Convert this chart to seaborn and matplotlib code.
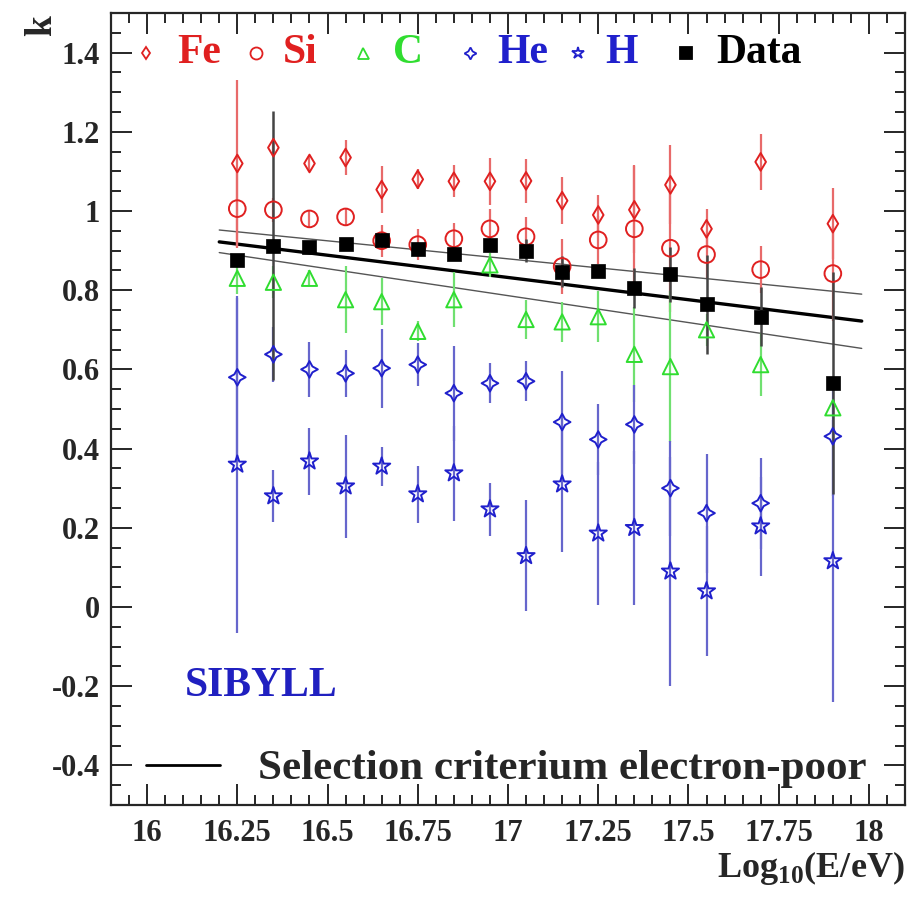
import numpy as np
import pandas as pd
import matplotlib
matplotlib.use("Agg")
import matplotlib.pyplot as plt
import seaborn as sns
from matplotlib.ticker import MultipleLocator, FuncFormatter

# ---------------- data ----------------
energy = [16.25, 16.35, 16.45, 16.55, 16.65, 16.75, 16.85, 16.95,
          17.05, 17.15, 17.25, 17.35, 17.45, 17.55, 17.70, 17.90]

fe = [1.120, 1.160, 1.120, 1.135, 1.054, 1.080, 1.075, 1.075,
      1.076, 1.026, 0.990, 1.003, 1.066, 0.955, 1.124, 0.968]
fe_err = [0.21, 0.02, 0.02, 0.045, 0.06, 0.025, 0.04, 0.06,
          0.055, 0.06, 0.05, 0.11, 0.10, 0.05, 0.07, 0.09]

si = [1.006, 1.003, 0.980, 0.985, 0.925, 0.915, 0.930, 0.955,
      0.935, 0.860, 0.927, 0.955, 0.906, 0.890, 0.852, 0.842]
si_err = [0.10, 0.03, 0.02, 0.02, 0.04, 0.04, 0.04, 0.05,
          0.05, 0.07, 0.06, 0.16, 0.16, 0.06, 0.06, 0.12]

c = [0.830, 0.820, 0.830, 0.776, 0.771, 0.696, 0.776, 0.864,
     0.726, 0.720, 0.733, 0.638, 0.607, 0.700, 0.612, 0.503]
c_err = [0.04, 0.04, 0.02, 0.085, 0.06, 0.025, 0.07, 0.03,
         0.05, 0.05, 0.065, 0.12, 0.19, 0.04, 0.08, 0.02]

he = [0.580, 0.638, 0.600, 0.590, 0.603, 0.612, 0.540, 0.565,
      0.570, 0.467, 0.423, 0.461, 0.300, 0.237, 0.262, 0.431]
he_err = [0.20, 0.07, 0.07, 0.06, 0.10, 0.055, 0.12, 0.05,
          0.05, 0.13, 0.09, 0.10, 0.12, 0.15, 0.115, 0.15]

h = [0.360, 0.280, 0.368, 0.305, 0.355, 0.285, 0.338, 0.247,
     0.129, 0.310, 0.186, 0.200, 0.090, 0.040, 0.204, 0.116]
h_err = [0.425, 0.065, 0.085, 0.13, 0.05, 0.072, 0.12, 0.067,
         0.14, 0.17, 0.18, 0.195, 0.29, 0.165, 0.125, 0.355]

k_data = [0.877, 0.912, 0.908, 0.917, 0.928, 0.905, 0.892, 0.915,
          0.900, 0.847, 0.849, 0.805, 0.840, 0.764, 0.733, 0.565]
k_data_err = [0.01, 0.34, 0.01, 0.01, 0.01, 0.01, 0.01, 0.01,
              0.03, 0.04, 0.01, 0.05, 0.07, 0.125, 0.075, 0.28]

sel_x = [16.20, 17.98]
sel_mid = [0.922, 0.722]
sel_up = [0.952, 0.790]
sel_lo = [0.895, 0.653]

x_ticks = [16, 16.25, 16.5, 16.75, 17, 17.25, 17.5, 17.75, 18]
y_ticks = [-0.4, -0.2, 0, 0.2, 0.4, 0.6, 0.8, 1.0, 1.2, 1.4]

names = ["Fe", "Si", "C", "He", "H"]
values = [fe, si, c, he, h]
errors = [fe_err, si_err, c_err, he_err, h_err]

# ---------------- style ----------------
sns.set_theme(style="ticks")
plt.rcParams["font.family"] = ["Liberation Serif", "DejaVu Serif"]
plt.rcParams["font.weight"] = "bold"
plt.rcParams["mathtext.fontset"] = "custom"
plt.rcParams["mathtext.rm"] = "Liberation Serif:bold"
plt.rcParams["mathtext.bf"] = "Liberation Serif:bold"

RED = "#e02020"
GREEN = "#30dd30"
BLUE = "#2020cc"
colors = {"Fe": RED, "Si": RED, "C": GREEN, "He": BLUE, "H": BLUE, "Data": "black"}
markers = {"Fe": "d", "Si": "o", "C": "^", "He": (4, 1, 0), "H": "*", "Data": "s"}
msize = {"Fe": 9, "Si": 12, "C": 11, "He": 12, "H": 13, "Data": 10}
ecols = {"Fe": "#e86a6a", "Si": "#e86a6a", "C": "#70e070", "He": "#6666cc", "H": "#6666cc", "Data": "#444444"}

fig = plt.figure(figsize=(9.14, 8.97), dpi=100)
ax = fig.add_axes([0.1214, 0.1026, 0.9902 - 0.1214, 0.9855 - 0.1026])

# selection criterion lines
sel_df = pd.DataFrame({"x": sel_x, "mid": sel_mid, "up": sel_up, "lo": sel_lo})
sns.lineplot(data=sel_df, x="x", y="up", ax=ax, color="#555555", lw=1.0)
sns.lineplot(data=sel_df, x="x", y="lo", ax=ax, color="#555555", lw=1.0)
sns.lineplot(data=sel_df, x="x", y="mid", ax=ax, color="black", lw=2.4)

# error bars
for name, v, e in zip(names, values, errors):
    ax.errorbar(energy, v, yerr=e, fmt="none", ecolor=ecols[name], elinewidth=1.6, capsize=0, zorder=2)
ax.errorbar(energy, k_data, yerr=k_data_err, fmt="none", ecolor=ecols["Data"], elinewidth=1.8, capsize=0, zorder=3)

# markers
for name, v in zip(names, values):
    sns.scatterplot(x=energy, y=v, ax=ax, marker=markers[name], s=msize[name] ** 2,
                    facecolors="none", edgecolors=colors[name], linewidths=1.4, zorder=4)
sns.scatterplot(x=energy, y=k_data, ax=ax, marker="s", s=msize["Data"] ** 2,
                color="black", edgecolor="black", linewidth=0.5, zorder=5)

# axes
ax.set_xlim(15.9, 18.1)
ax.set_ylim(-0.5, 1.5)
ax.set_xticks(x_ticks)
ax.set_yticks(y_ticks)
ax.xaxis.set_minor_locator(MultipleLocator(0.05))
ax.yaxis.set_minor_locator(MultipleLocator(0.05))
fmt = FuncFormatter(lambda v, p: ("%g" % round(v, 3)).replace("\u2212", "-"))
ax.xaxis.set_major_formatter(fmt)
ax.yaxis.set_major_formatter(fmt)
ax.tick_params(which="both", direction="in", top=True, right=True, width=1.4, labelsize=22)
ax.tick_params(which="major", length=15)
ax.tick_params(which="minor", length=7)
ax.tick_params(axis="x", pad=10)
ax.tick_params(axis="y", pad=8)
for sp in ax.spines.values():
    sp.set_linewidth(1.6)
ax.set_xlabel("")
ax.set_ylabel("")

ax.text(1.0, -0.08, r"Log$_{\mathrm{10}}$(E/eV)", transform=ax.transAxes,
        ha="right", va="center", fontsize=26, fontweight="bold")
fig.text(0.046, 0.972, "k", rotation=90, ha="center", va="center", fontsize=27, fontweight="bold")

# top legend (manual, equal columns like ROOT)
leg_names = ["Fe", "Si", "C", "He", "H", "Data"]
leg_mx = [0.044, 0.1826, 0.317, 0.452, 0.588, 0.724]
leg_tx = [0.083, 0.217, 0.355, 0.486, 0.622, 0.762]
leg_y = 0.9495
for nm, mx, tx in zip(leg_names, leg_mx, leg_tx):
    filled = nm == "Data"
    ax.plot([mx], [leg_y], transform=ax.transAxes, marker=markers[nm],
            ms=msize[nm] * (0.8 if filled else 0.72), mec=colors[nm],
            mfc=colors[nm] if filled else "none", mew=1.3, ls="none", clip_on=False)
    ax.text(tx, leg_y, nm, transform=ax.transAxes, color=colors[nm], fontsize=30,
            fontweight="bold", ha="left", va="center")

# model label
ax.text(0.093, 0.150, "SIBYLL", transform=ax.transAxes, color="#2020c0", fontsize=30,
        fontweight="bold", ha="left", va="center")

# bottom legend
ax.plot([0.044, 0.137], [0.0505, 0.0505], transform=ax.transAxes, color="black", lw=2.0)
ax.text(0.185, 0.0455, "Selection criterium electron-poor", transform=ax.transAxes,
        fontsize=31, fontweight="bold", ha="left", va="center")

fig.savefig("out.png", dpi=100)
